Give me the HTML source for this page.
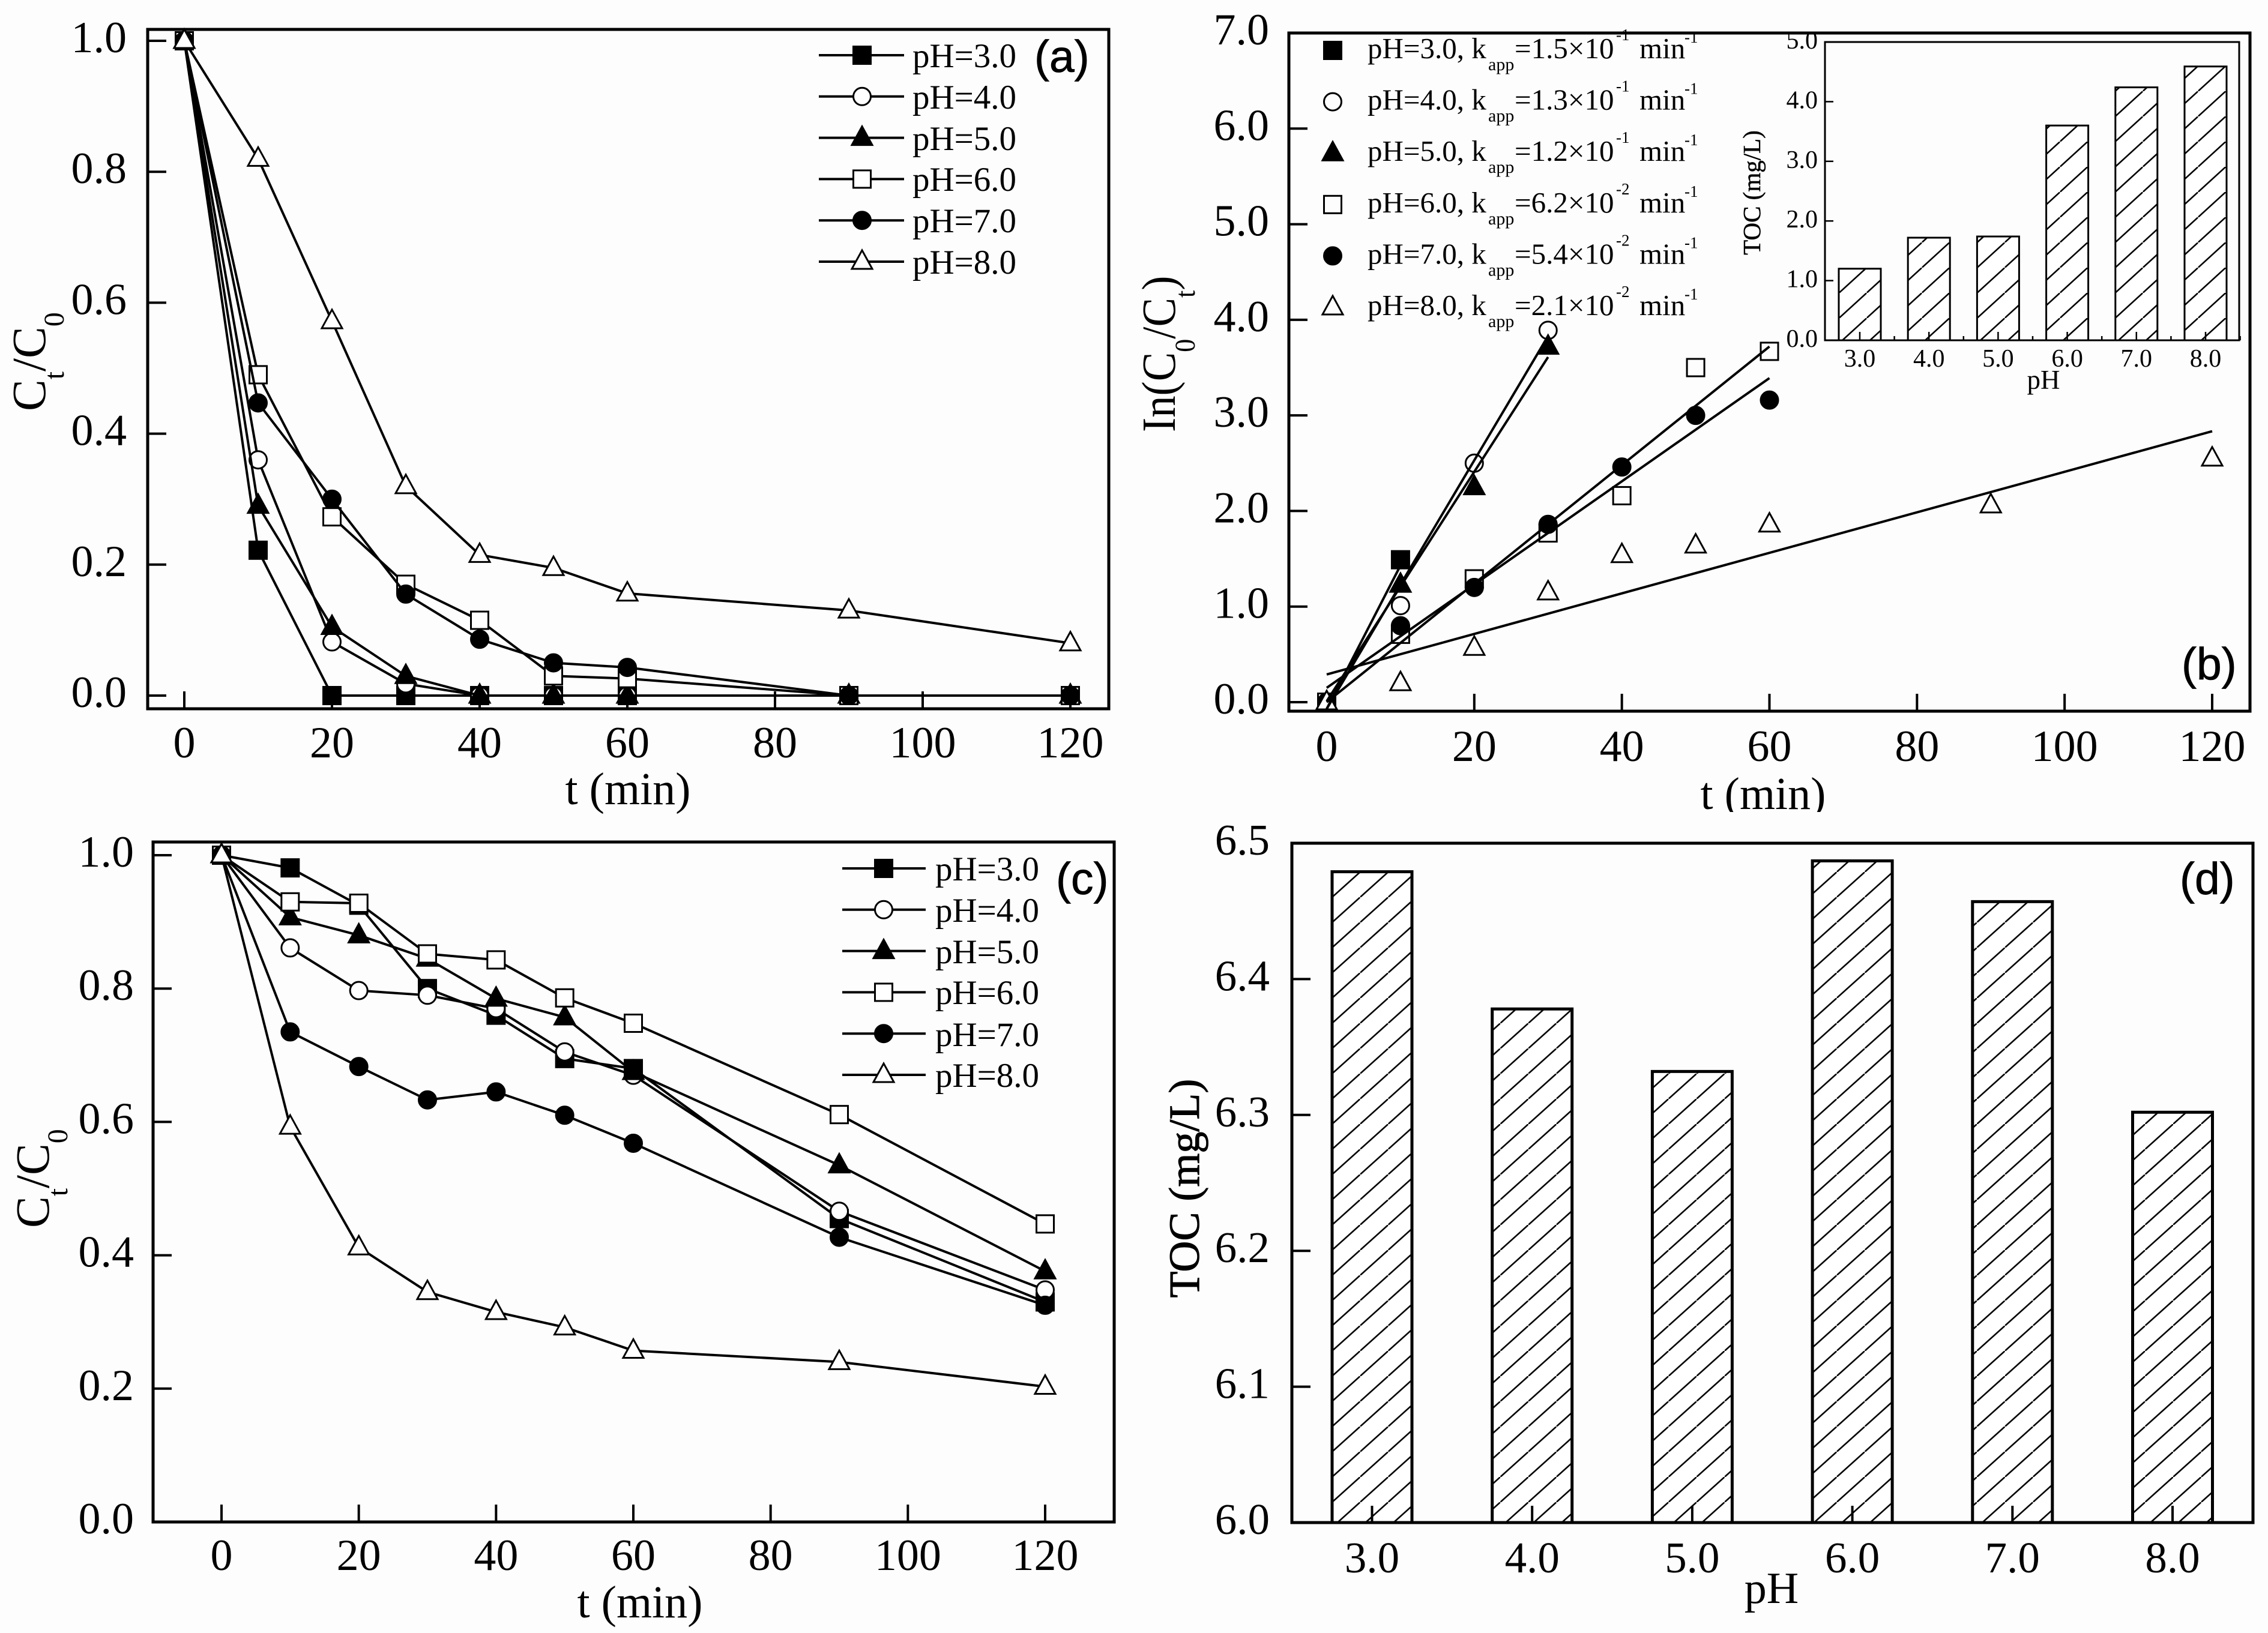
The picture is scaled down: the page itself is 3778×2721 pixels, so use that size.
<!DOCTYPE html>
<html lang="en">
<head>
<meta charset="utf-8">
<title>Degradation kinetics and TOC versus pH</title>
<style>
html,body{margin:0;padding:0;background:#fdfdfd;}
svg{display:block;}
text{font-family:"Liberation Serif",serif;fill:#000;}
.tick{font-size:74px;}
.title{font-size:76px;}
.leg{font-size:57px;}
.panel{font-family:"Liberation Sans",sans-serif;font-size:75px;stroke:#000;stroke-width:0.8px;}
.kleg{font-size:49px;}
</style>
</head>
<body>
<svg id="figure" xmlns="http://www.w3.org/2000/svg" width="3778" height="2721" viewBox="0 0 3778 2721">
<defs>
<pattern id="hatch-d" width="46.7" height="42" patternUnits="userSpaceOnUse" patternTransform="translate(2219 2461)">
<path d="M-4.67 46.2L51.37 -4.2" stroke="#000" stroke-width="2.6" fill="none"/>
</pattern>
<pattern id="hatch-inset" width="46" height="42" patternUnits="userSpaceOnUse" patternTransform="translate(3063.5 446)">
<path d="M-4.6 46.2L50.6 -4.2" stroke="#000" stroke-width="2.6" fill="none"/>
</pattern>
</defs>
<rect x="0" y="0" width="3778" height="2721" fill="#fdfdfd"/>
<g id="pa"></g>
<g id="pb"></g>
<g id="pc"></g>
<g id="pd"></g>

<g>
<text class="title" x="1046" y="1340" text-anchor="middle">t (min)</text>
<text class="title" transform="translate(75 685) rotate(-90)" style="font-size:79px">C<tspan dy="31" style="font-size:48px">t</tspan><tspan dy="-31">/C</tspan><tspan dy="31" style="font-size:48px">0</tspan></text>
<text class="panel" x="1723" y="120">(a)</text>
<text class="leg" x="1520" y="112">pH=3.0</text>
<text class="leg" x="1520" y="181">pH=4.0</text>
<text class="leg" x="1520" y="250">pH=5.0</text>
<text class="leg" x="1520" y="318">pH=6.0</text>
<text class="leg" x="1520" y="387">pH=7.0</text>
<text class="leg" x="1520" y="456">pH=8.0</text>
</g>

<g>
<text class="title" x="2937" y="1348" text-anchor="middle">t (min)</text>
<rect x="2800" y="1353" width="280" height="22" fill="#fdfdfd"/>
<text class="title" transform="translate(1957 720) rotate(-90) scale(0.92 1)" style="font-size:79px">In(C<tspan dy="33" style="font-size:48px">0</tspan><tspan dy="-33">/C</tspan><tspan dy="33" style="font-size:48px">t</tspan><tspan dy="-33">)</tspan></text>
<text class="panel" x="3634" y="1132">(b)</text>
<g class="kleg" transform="translate(0 0)"><text class="kleg" x="2278" y="97">pH=3.0, k<tspan x="2479" y="117" style="font-size:30px">app</tspan><tspan x="2523" y="97">=1.5×10</tspan><tspan x="2692" y="67" style="font-size:27px">-1</tspan><tspan x="2731" y="97">min</tspan><tspan x="2806" y="71" style="font-size:27px">-1</tspan></text></g>
<g class="kleg" transform="translate(0 85.6)"><text class="kleg" x="2278" y="97">pH=4.0, k<tspan x="2479" y="117" style="font-size:30px">app</tspan><tspan x="2523" y="97">=1.3×10</tspan><tspan x="2692" y="67" style="font-size:27px">-1</tspan><tspan x="2731" y="97">min</tspan><tspan x="2806" y="71" style="font-size:27px">-1</tspan></text></g>
<g class="kleg" transform="translate(0 171.2)"><text class="kleg" x="2278" y="97">pH=5.0, k<tspan x="2479" y="117" style="font-size:30px">app</tspan><tspan x="2523" y="97">=1.2×10</tspan><tspan x="2692" y="67" style="font-size:27px">-1</tspan><tspan x="2731" y="97">min</tspan><tspan x="2806" y="71" style="font-size:27px">-1</tspan></text></g>
<g class="kleg" transform="translate(0 256.8)"><text class="kleg" x="2278" y="97">pH=6.0, k<tspan x="2479" y="117" style="font-size:30px">app</tspan><tspan x="2523" y="97">=6.2×10</tspan><tspan x="2692" y="67" style="font-size:27px">-2</tspan><tspan x="2731" y="97">min</tspan><tspan x="2806" y="71" style="font-size:27px">-1</tspan></text></g>
<g class="kleg" transform="translate(0 342.4)"><text class="kleg" x="2278" y="97">pH=7.0, k<tspan x="2479" y="117" style="font-size:30px">app</tspan><tspan x="2523" y="97">=5.4×10</tspan><tspan x="2692" y="67" style="font-size:27px">-2</tspan><tspan x="2731" y="97">min</tspan><tspan x="2806" y="71" style="font-size:27px">-1</tspan></text></g>
<g class="kleg" transform="translate(0 428)"><text class="kleg" x="2278" y="97">pH=8.0, k<tspan x="2479" y="117" style="font-size:30px">app</tspan><tspan x="2523" y="97">=2.1×10</tspan><tspan x="2692" y="67" style="font-size:27px">-2</tspan><tspan x="2731" y="97">min</tspan><tspan x="2806" y="71" style="font-size:27px">-1</tspan></text></g>
<text x="3404" y="648" text-anchor="middle" style="font-size:45px">pH</text>
<text transform="translate(2932 321) rotate(-90)" text-anchor="middle" style="font-size:41px;stroke:#000;stroke-width:0.5px">TOC (mg/L)</text>
</g>

<g>
<text class="title" x="1066" y="2695" text-anchor="middle">t (min)</text>
<text class="title" transform="translate(81 2046) rotate(-90)" style="font-size:79px">C<tspan dy="31" style="font-size:48px">t</tspan><tspan dy="-31">/C</tspan><tspan dy="31" style="font-size:48px">0</tspan></text>
<text class="panel" x="1759" y="1490">(c)</text>
<text class="leg" x="1558" y="1467">pH=3.0</text>
<text class="leg" x="1558" y="1536">pH=4.0</text>
<text class="leg" x="1558" y="1605">pH=5.0</text>
<text class="leg" x="1558" y="1673">pH=6.0</text>
<text class="leg" x="1558" y="1743">pH=7.0</text>
<text class="leg" x="1558" y="1811">pH=8.0</text>
</g>

<g>
<text class="title" x="2951" y="2671" text-anchor="middle" style="font-size:74px">pH</text>
<text class="title" transform="translate(1997 1980) rotate(-90)" text-anchor="middle" style="font-size:72px;stroke:#000;stroke-width:1px">TOC (mg/L)</text>
<text class="panel" x="3631" y="1490">(d)</text>
</g>
</svg>

<script>
// Panel (a): C_t/C_0 versus time
const timesA = [0, 10, 20, 30, 40, 50, 60, 90, 120];
const aPH3 = [1, 0.222, 0, 0, 0, 0, 0, 0, 0];
const aPH4 = [1, 0.36, 0.082, 0.018, 0, 0, 0, 0, 0];
const aPH5 = [1, 0.29, 0.105, 0.03, 0, 0, 0, 0, 0];
const aPH6 = [1, 0.49, 0.273, 0.17, 0.115, 0.03, 0.026, 0, 0];
const aPH7 = [1, 0.447, 0.3, 0.155, 0.086, 0.05, 0.043, 0, 0];
const aPH8 = [1, 0.82, 0.572, 0.32, 0.215, 0.195, 0.156, 0.13, 0.08];

// Panel (b): ln(C0/Ct) points and linear fits
const bT3 = [0, 10];
const bT45 = [0, 10, 20, 30];
const bT67 = [0, 10, 20, 30, 40, 50, 60];
const bT8 = [0, 10, 20, 30, 40, 50, 60, 90, 120];
const bPH3 = [0, 1.49];
const bPH4 = [0, 1.01, 2.5, 3.89];
const bPH5 = [0, 1.23, 2.25, 3.72];
const bPH6 = [0, 0.71, 1.29, 1.77, 2.16, 3.5, 3.67];
const bPH7 = [0, 0.8, 1.2, 1.86, 2.46, 3.0, 3.16];
const bPH8 = [0, 0.2, 0.57, 1.15, 1.54, 1.64, 1.86, 2.06, 2.55];
const fitSlope = [0.15, 0.13, 0.12, 0.062, 0.054, 0.0212];
const fitIntercept = [-0.07, -0.07, 0.01, 0, 0.15, 0.29];
const fitEndTime = [10, 30, 30, 60, 60, 120];

// Panel (b) inset: TOC bars
const insetCategories = ['3.0', '4.0', '5.0', '6.0', '7.0', '8.0'];
const insetTOC = [1.2, 1.72, 1.74, 3.6, 4.24, 4.59];

// Panel (c): C_t/C_0 versus time
const timesC = [0, 10, 20, 30, 40, 50, 60, 90, 120];
const cPH3 = [1, 0.981, 0.925, 0.8, 0.76, 0.695, 0.68, 0.455, 0.33];
const cPH4 = [1, 0.861, 0.797, 0.79, 0.77, 0.705, 0.67, 0.466, 0.348];
const cPH5 = [1, 0.907, 0.88, 0.845, 0.785, 0.757, 0.675, 0.535, 0.376];
const cPH6 = [1, 0.93, 0.928, 0.852, 0.843, 0.786, 0.748, 0.611, 0.447];
const cPH7 = [1, 0.735, 0.683, 0.633, 0.645, 0.61, 0.568, 0.427, 0.325];
const cPH8 = [1, 0.593, 0.412, 0.345, 0.315, 0.292, 0.257, 0.24, 0.203];

// Panel (d): TOC bars
const dCategories = ['3.0', '4.0', '5.0', '6.0', '7.0', '8.0'];
const dTOC = [6.479, 6.378, 6.332, 6.487, 6.457, 6.302];

// Tick values
const timeTicks = [0, 20, 40, 60, 80, 100, 120];
const ratioTicks = [0, 0.2, 0.4, 0.6, 0.8, 1.0];
const lnTicks = [0, 1, 2, 3, 4, 5, 6, 7];
const insetTicks = [0, 1, 2, 3, 4, 5];
const dTicks = [6.0, 6.1, 6.2, 6.3, 6.4, 6.5];

const phNames = ['ph3', 'ph4', 'ph5', 'ph6', 'ph7', 'ph8'];
const markerKinds = ['square-filled', 'circle-open', 'triangle-filled', 'square-open', 'circle-filled', 'triangle-open'];

const NS = 'http://www.w3.org/2000/svg';

function make(parent, tag, name, attrs) {
  const el = document.createElementNS(NS, tag);
  
  
  for (const k in attrs) el.setAttribute(k, attrs[k]);
  parent.appendChild(el);
  return el;
}
function segment(parent, name, x1, y1, x2, y2, w) {
  return make(parent, 'line', name, {x1: x1, y1: y1, x2: x2, y2: y2, stroke: '#000', 'stroke-width': w});
}
function label(parent, name, x, y, str, anchor, size) {
  const el = make(parent, 'text', name, {x: x, y: y, 'text-anchor': anchor, style: 'font-size:' + size + 'px'});
  el.textContent = str;
  return el;
}
function marker(parent, name, kind, x, y, sw) {
  const filled = kind.indexOf('filled') >= 0;
  const fill = filled ? '#000' : '#fff';
  const common = {fill: fill, stroke: '#000', 'stroke-width': sw};
  if (kind.indexOf('square') === 0) {
    return make(parent, 'rect', name, Object.assign({x: x - 14.5, y: y - 14.5, width: 29, height: 29}, common));
  }
  if (kind.indexOf('circle') === 0) {
    return make(parent, 'circle', name, Object.assign({cx: x, cy: y, r: 14.5}, common));
  }
  const pts = x + ',' + (y - 19) + ' ' + (x + 17) + ',' + (y + 12) + ' ' + (x - 17) + ',' + (y + 12);
  return make(parent, 'polygon', name, Object.assign({points: pts, 'stroke-linejoin': 'miter'}, common));
}
function linear(d0, d1, r0, r1) {
  return function (v) { return r0 + (v - d0) * (r1 - r0) / (d1 - d0); };
}
function frame(parent, name, x, y, w, h, sw) {
  return make(parent, 'rect', name, {x: x, y: y, width: w, height: h, fill: 'none', stroke: '#000', 'stroke-width': sw});
}
function xTicks(parent, key, values, sx, bottom, len, labelY) {
  values.forEach(function (v) {
    segment(parent, 'x-tick-' + key + '-' + v, sx(v), bottom, sx(v), bottom - len, 4);
    label(parent, 'x-tick-label-' + key + '-' + v, sx(v), labelY, String(v), 'middle', 74);
  });
}
function yTicks(parent, key, values, sy, left, len, labelX) {
  values.forEach(function (v) {
    segment(parent, 'y-tick-' + key + '-' + v.toFixed(1), left, sy(v), left + len, sy(v), 4);
    label(parent, 'y-tick-label-' + key + '-' + v.toFixed(1), labelX, sy(v) + 19, v.toFixed(1), 'end', 74);
  });
}
function series(parent, key, idx, ts, vals, sx, sy, drawLine) {
  const kind = markerKinds[idx];
  if (drawLine) {
    const pts = ts.map(function (t, i) { return sx(t) + ',' + sy(vals[i]); }).join(' ');
    make(parent, 'polyline', 'line-' + key + '-' + phNames[idx], {points: pts, fill: 'none', stroke: '#000', 'stroke-width': 4, 'stroke-linejoin': 'round'});
  }
  ts.forEach(function (t, i) {
    marker(parent, 'point-' + key + '-' + phNames[idx] + '-t' + t, kind, sx(t), sy(vals[i]), 3);
  });
}
function lineLegend(parent, key, x1, x2, xm, y0, step) {
  phNames.forEach(function (ph, i) {
    const y = y0 + i * step;
    segment(parent, 'legend-line-' + key + '-' + ph, x1, y, x2, y, 4);
    marker(parent, 'legend-marker-' + key + '-' + ph, markerKinds[i], xm, y, 3);
  });
}

// ---- Panel a ----
(function () {
  const p = document.getElementById('pa');
  const sx = linear(0, 120, 307, 1783);
  const sy = linear(0, 1, 1159, 68);
  xTicks(p, 'a', timeTicks, sx, 1181, 29, 1262);
  yTicks(p, 'a', ratioTicks, sy, 246, 31, 211);
  [aPH3, aPH4, aPH5, aPH6, aPH7, aPH8].forEach(function (vals, i) {
    series(p, 'a', i, timesA, vals, sx, sy, true);
  });
  frame(p, 'plot-frame-a', 246, 49, 1601, 1132, 5);
  lineLegend(p, 'a', 1364, 1506, 1436, 92, 68.8);
})();

// ---- Panel b ----
(function () {
  const p = document.getElementById('pb');
  const sx = linear(0, 120, 2210, 3685);
  const sy = linear(0, 7, 1170, 55);
  xTicks(p, 'b', timeTicks, sx, 1185, 29, 1268);
  yTicks(p, 'b', lnTicks, sy, 2147, 31, 2114);
  [[bT3, bPH3], [bT45, bPH4], [bT45, bPH5], [bT67, bPH6], [bT67, bPH7], [bT8, bPH8]].forEach(function (s, i) {
    const kind = markerKinds[i];
    s[0].forEach(function (t, j) {
      const open = kind.indexOf('open') >= 0;
      const el = marker(p, 'point-b-' + phNames[i] + '-t' + t, kind, sx(t), sy(s[1][j]), 3);
      if (open && t > 0) el.setAttribute('fill', 'none');
    });
  });
  fitSlope.forEach(function (k, i) {
    const b = fitIntercept[i];
    const tEnd = fitEndTime[i];
    segment(p, 'fit-line-' + phNames[i], sx(0), sy(b), sx(tEnd), sy(k * tEnd + b), 4);
  });
  frame(p, 'plot-frame-b', 2147, 55, 1601, 1130, 5);
  phNames.forEach(function (ph, i) {
    const el = marker(p, 'legend-marker-b-' + ph, markerKinds[i], 2220, 84 + i * 85.6, 3);
    if (markerKinds[i].indexOf('open') >= 0) el.setAttribute('fill', 'none');
  });

  // inset
  const ix = linear(0, 5, 3098, 3674);
  const iy = linear(0, 5, 567, 70);
  insetCategories.forEach(function (c, i) {
    make(p, 'rect', 'inset-bar-bg-' + c, {x: ix(i) - 35, y: iy(insetTOC[i]), width: 70, height: 567 - iy(insetTOC[i]), fill: '#fff'});
    make(p, 'rect', 'inset-bar-' + c, {x: ix(i) - 35, y: iy(insetTOC[i]), width: 70, height: 567 - iy(insetTOC[i]), fill: 'url(#hatch-inset)', stroke: '#000', 'stroke-width': 3});
    segment(p, 'inset-x-tick-' + c, ix(i), 567, ix(i), 553, 2.5);
    segment(p, 'inset-x-minor-tick-' + c, ix(i) + 57.6, 567, ix(i) + 57.6, 560, 2.5);
    label(p, 'inset-x-tick-label-' + c, ix(i), 611, c, 'middle', 42);
  });
  insetTicks.forEach(function (v) {
    segment(p, 'inset-y-tick-' + v, 3040, iy(v), 3054, iy(v), 2.5);
    label(p, 'inset-y-tick-label-' + v, 3028, iy(v) + 11, v.toFixed(1), 'end', 42);
  });
  frame(p, 'inset-frame', 3040, 70, 690, 497, 3);
})();

// ---- Panel c ----
(function () {
  const p = document.getElementById('pc');
  const sx = linear(0, 120, 369, 1741);
  const sy = linear(0, 1, 2536, 1425);
  xTicks(p, 'c', timeTicks, sx, 2536, 29, 2616);
  yTicks(p, 'c', ratioTicks, sy, 255, 31, 223);
  [cPH3, cPH4, cPH5, cPH6, cPH7, cPH8].forEach(function (vals, i) {
    series(p, 'c', i, timesC, vals, sx, sy, true);
  });
  frame(p, 'plot-frame-c', 255, 1403, 1601, 1133, 5);
  lineLegend(p, 'c', 1403, 1542, 1472, 1447, 68.8);
})();

// ---- Panel d ----
(function () {
  const p = document.getElementById('pd');
  const sx = linear(0, 5, 2285.5, 3619);
  const sy = linear(6.0, 6.5, 2537, 1405);
  dCategories.forEach(function (c, i) {
    const top = sy(dTOC[i]);
    make(p, 'rect', 'bar-bg-' + c, {x: sx(i) - 66.5, y: top, width: 133, height: 2537 - top, fill: '#fff'});
    make(p, 'rect', 'bar-' + c, {x: sx(i) - 66.5, y: top, width: 133, height: 2537 - top, fill: 'url(#hatch-d)', stroke: '#000', 'stroke-width': 5});
    segment(p, 'x-tick-d-' + c, sx(i), 2537, sx(i), 2509, 4);
    label(p, 'x-tick-label-d-' + c, sx(i), 2620, c, 'middle', 73);
  });
  dTicks.forEach(function (v) {
    segment(p, 'y-tick-d-' + v.toFixed(1), 2152, sy(v), 2183, sy(v), 4);
    label(p, 'y-tick-label-d-' + v.toFixed(1), 2115, sy(v) + 19, v.toFixed(1), 'end', 73);
  });
  frame(p, 'plot-frame-d', 2152, 1405, 1601, 1132, 5);
})();
</script>
</body>
</html>
